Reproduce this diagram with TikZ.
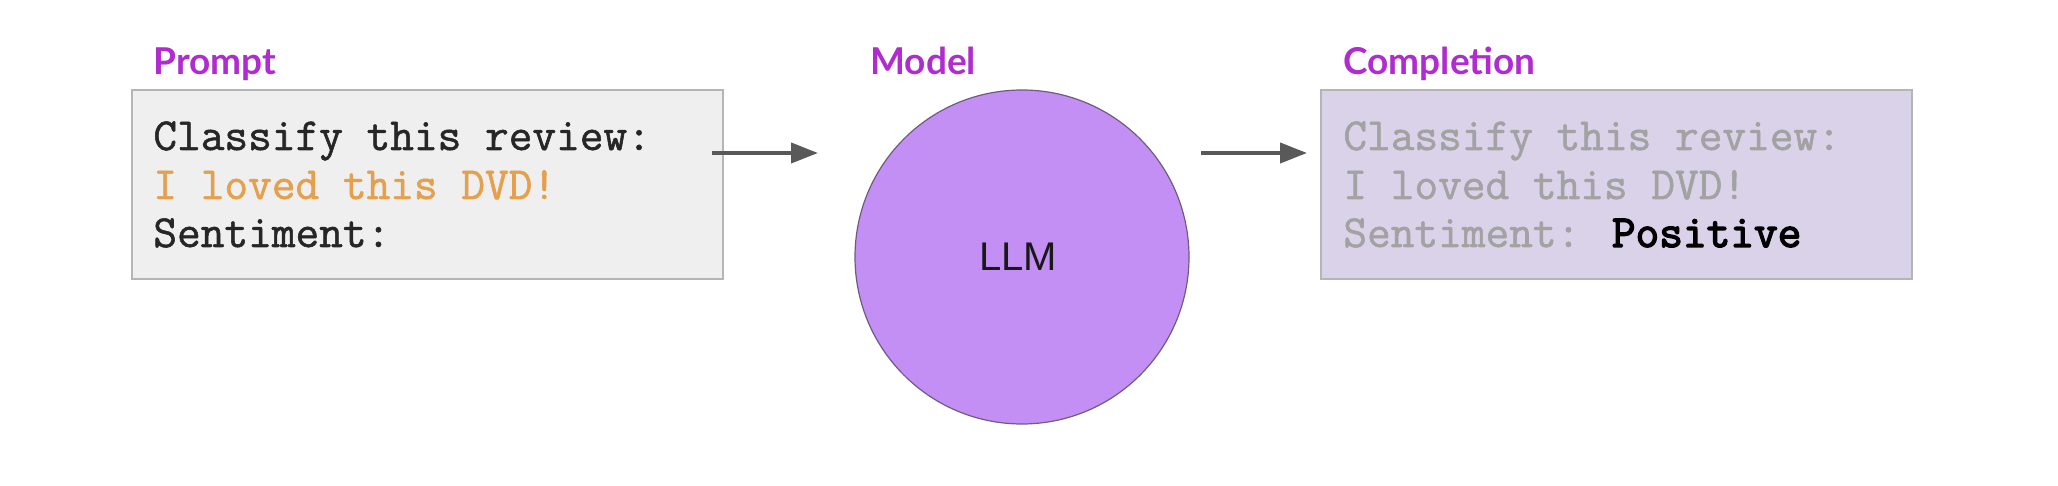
\documentclass[tikz,border=0pt]{standalone}
\usepackage{fontspec}
\usetikzlibrary{arrows.meta}
\newfontfamily\labelfont{Lato}
\newfontfamily\llmfont{Liberation Sans}
\newfontfamily\codefont{Latin Modern Mono}[FakeBold=1.2]
\newfontfamily\codeboldfont{Latin Modern Mono}[FakeBold=3]
\definecolor{labelpurple}{HTML}{B02CD0}
\definecolor{circlepurple}{HTML}{C48FF5}
\definecolor{circleedge}{HTML}{6E5C80}
\definecolor{promptgray}{HTML}{EFEFEF}
\definecolor{complfill}{HTML}{D9D2E9}
\definecolor{boxedge}{HTML}{B5B5B5}
\definecolor{reviewgold}{HTML}{E5A04E}
\definecolor{fadedgray}{HTML}{A2A2A2}
\definecolor{arrowgray}{HTML}{595959}
\begin{document}
\begin{tikzpicture}
[x = 0.5pt, y = -0.5pt,
 title/.style = {anchor=base west, inner sep=0pt, text=labelpurple, font=\labelfont\bfseries\fontsize{18.5}{21}\selectfont},
 panel/.style = {draw=boxedge, line width=1pt, minimum width=295.5pt, minimum height=94.5pt, inner sep=0pt},
 code/.style = {anchor=base west, inner sep=0pt, font=\codefont\fontsize{23}{26}\selectfont},
 flow/.style = {draw=arrowgray, line width=2pt, -{Triangle[length=13.5pt,width=10pt]}}
 ]
\useasboundingbox (0,0) rectangle (2058,486);
% boxes and model
\node [panel, fill=promptgray] (prompt) at (427.5,184.5) {};
\node [panel, fill=complfill] (completion) at (1616,184.5) {};
\node [circle, draw=circleedge, line width=0.6pt, fill=circlepurple, minimum size=167pt, inner sep=0pt] (model) at (1022,257) {};
\node [font=\llmfont\fontsize{20}{24}\selectfont, text=black!90] (llm) at (1018,257) {LLM};
% headings
\node [title] (promptlabel) at (153,75) {Prompt};
\node [title] (modellabel) at (870,75) {Model};
\node [title] (compllabel) at (1343,75) {Completion};
% prompt text
\node [code, text=black!85] (p1) at (153,150) {Classify this review:};
\node [code, text=reviewgold] (p2) at (153,199) {I loved this DVD!};
\node [code, text=black!85] (p3) at (153,247) {Sentiment:};
% completion text
\node [code, text=fadedgray] (c1) at (1343,150) {Classify this review:};
\node [code, text=fadedgray] (c2) at (1343,199) {I loved this DVD!};
\node [code, text=fadedgray] (c3) at (1343,247) {Sentiment: \textcolor{black}{\codeboldfont Positive}};
% arrows
\coordinate (in1) at (712,153);
\coordinate (out1) at (818,153);
\coordinate (in2) at (1201,153);
\coordinate (out2) at (1307,153);
\draw [flow] (in1) -- (out1);
\draw [flow] (in2) -- (out2);
\end{tikzpicture}
\end{document}
